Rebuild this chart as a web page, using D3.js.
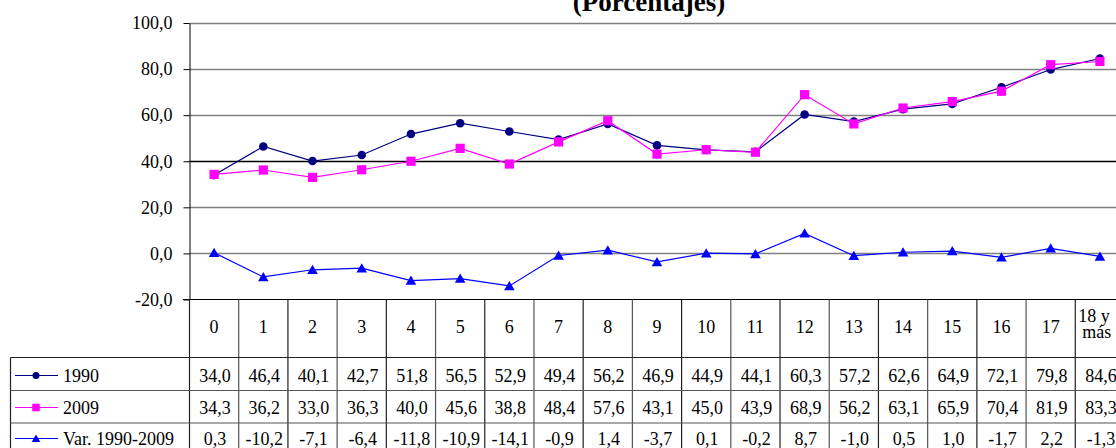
<!DOCTYPE html>
<html>
<head>
<meta charset="utf-8">
<script src="https://cdn.jsdelivr.net/npm/d3@7"></script>
<style>
  html, body { margin: 0; padding: 0; background: #fff; }
  svg { display: block; font-family: "Liberation Serif", "Times New Roman", serif; }
</style>
</head>
<body>
<svg id="chart" width="1116" height="448"></svg>
<script>
// Age groups (columns of the data table)
const categories = ["0","1","2","3","4","5","6","7","8","9","10","11","12","13","14","15","16","17","18 y más"];
const values1990 = [34.0,46.4,40.1,42.7,51.8,56.5,52.9,49.4,56.2,46.9,44.9,44.1,60.3,57.2,62.6,64.9,72.1,79.8,84.6];
const values2009 = [34.3,36.2,33.0,36.3,40.0,45.6,38.8,48.4,57.6,43.1,45.0,43.9,68.9,56.2,63.1,65.9,70.4,81.9,83.3];
const valuesVar  = [0.3,-10.2,-7.1,-6.4,-11.8,-10.9,-14.1,-0.9,1.4,-3.7,0.1,-0.2,8.7,-1.0,0.5,1.0,-1.7,2.2,-1.3];
const yTicks = [-20, 0, 20, 40, 60, 80, 100];

const series = [
  { name: "1990", values: values1990, color: "#000080", marker: "circle" },
  { name: "2009", values: values2009, color: "#FF00FF", marker: "square" },
  { name: "Var. 1990-2009", values: valuesVar, color: "#0000FF", marker: "triangle" }
];

const svg = d3.select("#chart");
// One decimal, comma as decimal separator, plain hyphen for negatives
const fmt = v => d3.format(".1f")(v).replace(".", ",").replace("\u2212", "-");

const plotLeft = 189.5, plotRight = 1124.5;
const x = d3.scaleBand().domain(categories).range([plotLeft, plotRight]).padding(0);
const y = d3.scaleLinear().domain([-20, 100]).range([299.5, 23]);

// Title (partially above the visible area)
svg.append("text")
  .attr("x", 649).attr("y", 11)
  .attr("text-anchor", "middle")
  .attr("font-size", 27).attr("font-weight", "bold")
  .text("(Porcentajes)");

// Horizontal gridlines
svg.append("g").selectAll("line")
  .data(yTicks.filter(d => d !== -20))
  .join("line")
  .attr("x1", plotLeft).attr("x2", plotRight)
  .attr("y1", d => Math.round(y(d)) + 0.5).attr("y2", d => Math.round(y(d)) + 0.5)
  .attr("stroke", d => d === 40 ? "#000" : "#808080")
  .attr("stroke-width", 1.3);

// Y axis with comma decimal labels
const yAxis = d3.axisLeft(y).tickValues(yTicks).tickSize(6).tickSizeOuter(0)
  .tickFormat(fmt).tickPadding(11);
const gy = svg.append("g").attr("transform", `translate(${plotLeft},0)`).call(yAxis);
gy.select(".domain").attr("stroke", "#000");
gy.selectAll(".tick line").attr("stroke", "#000");
gy.selectAll(".tick text").attr("font-size", 18).attr("fill", "#000")
  .attr("font-family", "Liberation Serif, serif").attr("dy", "0.32em");

// Bottom border of the plot / top of the table
svg.append("line")
  .attr("x1", 183).attr("x2", plotRight)
  .attr("y1", 299.5).attr("y2", 299.5)
  .attr("stroke", "#000");

// Marker drawing helper
function drawMarker(g, type, cx, cy, color, s) {
  if (type === "circle") {
    g.append("circle").attr("cx", cx).attr("cy", cy).attr("r", 4.3 * s).attr("fill", color);
  } else if (type === "square") {
    const h = 4.6 * s;
    g.append("rect").attr("x", cx - h).attr("y", cy - h).attr("width", 2 * h).attr("height", 2 * h).attr("fill", color);
  } else {
    const w = 5.3 * s, hh = 5 * s;
    g.append("path").attr("d", `M${cx},${cy - hh}L${cx + w},${cy + hh * 0.85}L${cx - w},${cy + hh * 0.85}Z`).attr("fill", color);
  }
}

// Series lines and markers
const line = d3.line().x((d, i) => x(categories[i]) + x.bandwidth() / 2).y(d => y(d));
series.forEach(s => {
  const g = svg.append("g");
  g.append("path").datum(s.values)
    .attr("d", line).attr("fill", "none")
    .attr("stroke", s.color).attr("stroke-width", 1.2);
  s.values.forEach((v, i) => {
    drawMarker(g, s.marker, x(categories[i]) + x.bandwidth() / 2, y(v), s.color, 1);
  });
});

// Data table
const headerTop = 299.5, headerBottom = 357.5;
const rowTops = [357.5, 390.5, 423];
const rowBaselines = [382, 414, 445];
const legendLeft = 10.5;
const tableBottom = 460;
const tbl = svg.append("g");
const border = "#222";

// Vertical column separators
d3.range(categories.length + 1).forEach(k => {
  const xx = k === categories.length ? plotRight : x(categories[k]);
  tbl.append("line").attr("x1", xx).attr("x2", xx)
    .attr("y1", headerTop).attr("y2", tableBottom)
    .attr("stroke", k % 2 ? "#555" : border).attr("stroke-width", 1.2);
});
// Legend column box
tbl.append("line").attr("x1", legendLeft).attr("x2", legendLeft)
  .attr("y1", headerBottom).attr("y2", tableBottom).attr("stroke", border).attr("stroke-width", 1.2);
// Horizontal row separators
rowTops.forEach((ty, i) => {
  tbl.append("line").attr("x1", legendLeft).attr("x2", plotRight)
    .attr("y1", ty).attr("y2", ty)
    .attr("stroke", i === 0 ? border : "#555").attr("stroke-width", 1.2);
});

// Category header labels
categories.forEach(c => {
  const cx = x(c) + x.bandwidth() / 2;
  if (c === "18 y más") {
    const parts = c.split(" ");
    tbl.append("text").attr("x", x(c) + 3).attr("y", 321.5).attr("font-size", 18)
      .text(parts[0] + " " + parts[1]);
    tbl.append("text").attr("x", x(c) + 7).attr("y", 338).attr("font-size", 18)
      .text(parts[2]);
  } else {
    tbl.append("text").attr("x", cx).attr("y", 333).attr("text-anchor", "middle")
      .attr("font-size", 18).text(c);
  }
});

// Legend entries and values
series.forEach((s, r) => {
  const base = rowBaselines[r];
  const cy = base - 6.5;
  tbl.append("line").attr("x1", 15).attr("x2", 58).attr("y1", cy).attr("y2", cy)
    .attr("stroke", s.color).attr("stroke-width", 1.2);
  drawMarker(tbl, s.marker, 36, cy, s.color, 0.82);
  tbl.append("text").attr("x", 63).attr("y", base).attr("font-size", 18).text(s.name);
  s.values.forEach((v, i) => {
    tbl.append("text")
      .attr("x", x(categories[i]) + x.bandwidth() / 2 + 1)
      .attr("y", base)
      .attr("text-anchor", "middle").attr("font-size", 18)
      .text(fmt(v));
  });
});
</script>
</body>
</html>
